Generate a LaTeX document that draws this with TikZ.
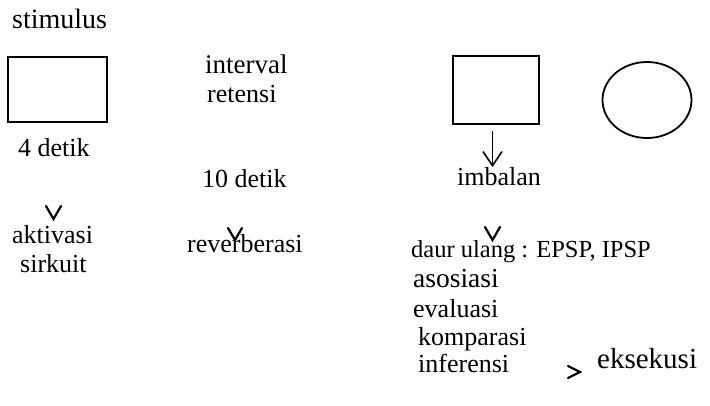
\documentclass[tikz,border=0pt]{standalone}
\usepackage{fontspec}
\setmainfont{Liberation Serif}
\usetikzlibrary{arrows.meta,shapes.geometric}
\begin{document}
\begin{tikzpicture}[x=1pt,y=-1pt,
  lbl/.style={anchor=base west,inner sep=0pt,font=\fontsize{26}{30}\selectfont},
  frame/.style={draw,line width=1.8pt},
  chev/.style={line width=2.2pt,line cap=round,line join=miter},
  pointer/.style={line width=1.6pt,-{Straight Barb[length=14pt,width=19pt,line width=1.6pt]}}]
\useasboundingbox (0,0) rectangle (710,405);

% left column: stimulus
\node[lbl,font=\fontsize{28}{32}\selectfont] (stim) at (12,28) {stimulus};
\draw[frame] (8,57) rectangle (107,122);
\node[lbl] (four) at (18,156) {4 detik};
\draw[chev] (46,206) -- (53.5,219) -- (61,206);
\node[lbl] (akt) at (12,243) {aktivasi};
\node[lbl] (sirk) at (20,272) {sirkuit};

% middle column: retention interval
\node[lbl,font=\fontsize{27}{31}\selectfont] (intv) at (205,73) {interval};
\node[lbl] (ret) at (207,102) {retensi};
\node[lbl] (ten) at (202,187) {10 detik};
\node[lbl] (rev) at (187,252) {reverberasi};
\draw[chev] (228,228) -- (235,240) -- (242,228);

% right column: reward and processing
\node[frame,rectangle,minimum width=86pt,minimum height=68pt,inner sep=0pt] (rbox) at (496,90) {};
\node[frame,ellipse,minimum width=89pt,minimum height=76pt,inner sep=0pt] (oval) at (647,100) {};
\node[lbl] (imb) at (457,185) {imbalan};
\coordinate (tip) at (492.5,167);
\draw[pointer] ([xshift=-3.5pt,yshift=-6pt]rbox.south) -- (tip);
\draw[chev] (485,227) -- (492.5,240) -- (500,227);
\node[lbl,font=\fontsize{24.5}{29}\selectfont] (daur) at (411,257) {daur ulang : EPSP, IPSP};
\node[lbl,font=\fontsize{27.5}{31}\selectfont] (asos) at (413,287) {asosiasi};
\node[lbl] (eval) at (413,317) {evaluasi};
\node[lbl] (komp) at (418,345) {komparasi};
\node[lbl] (infr) at (418,372) {inferensi};
\draw[chev] (568,366) -- (580,372) -- (568,378);
\node[lbl,font=\fontsize{29}{33}\selectfont] (eks) at (597,368) {eksekusi};
\end{tikzpicture}
\end{document}
